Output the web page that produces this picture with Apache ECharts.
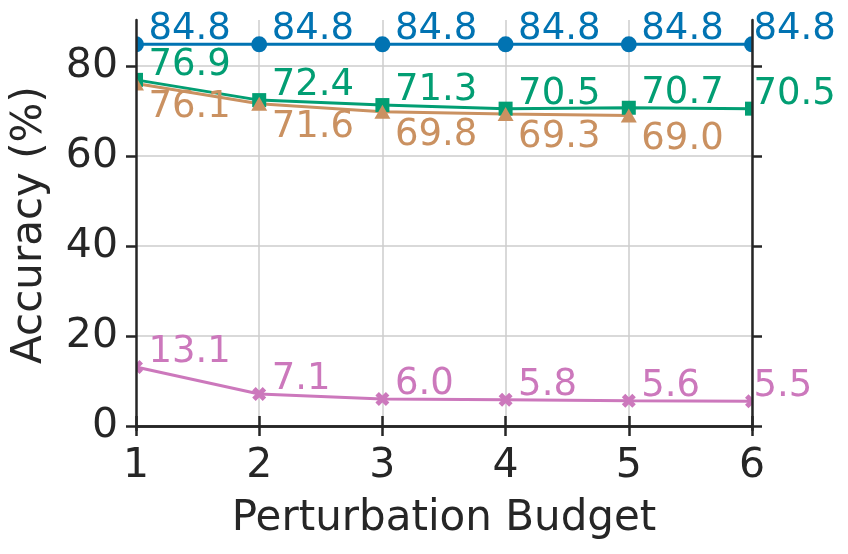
<!DOCTYPE html>
<html><head><meta charset="utf-8">
<script src="https://cdn.jsdelivr.net/npm/echarts@6/dist/echarts.min.js"></script>
<style>html,body{margin:0;padding:0;background:#fff}#c{width:848px;height:554px}</style>
</head><body><div id="c"></div>
<script>
// ---- data ----
const budgets = [1, 2, 3, 4, 5, 6];
const blueValues = [84.8, 84.8, 84.8, 84.8, 84.8, 84.8];
const greenValues = [76.9, 72.4, 71.3, 70.5, 70.7, 70.5];
const tanValues = [76.1, 71.6, 69.8, 69.3, 69.0];
const pinkValues = [13.1, 7.1, 6.0, 5.8, 5.6, 5.5];
const yTicks = [0, 20, 40, 60, 80];
const xTicks = [1, 2, 3, 4, 5, 6];
const yMin = -0.9, yMax = 90.2;
const xName = 'Perturbation Budget';
const yName = 'Accuracy (%)';

// ---- style ----
const FONT = 'DejaVu Sans';
const INK = '#262626';
const GRID = '#cccccc';
const xPath = 'path://M0.25,0L0.5,0.25L0.75,0L1,0.25L0.75,0.5L1,0.75L0.75,1L0.5,0.75L0.25,1L0,0.75L0.25,0.5L0,0.25Z';

const defs = [
  { values: blueValues,  color: '#0173b2', symbol: 'circle',   size: 16,       below: false },
  { values: greenValues, color: '#029e73', symbol: 'rect',     size: 14,       below: false },
  { values: tanValues,   color: '#ca9161', symbol: 'triangle', size: [16, 14], below: true },
  { values: pinkValues,  color: '#cc78bc', symbol: xPath,      size: 14,       below: false }
];

const chart = echarts.init(document.getElementById('c'), null, { renderer: 'canvas' });

const series = [];
defs.forEach(d => {
  series.push({
    type: 'line', xAxisIndex: 0, yAxisIndex: 0, z: 2, silent: true,
    data: d.values.map((v, i) => [budgets[i], v]),
    symbol: d.symbol, symbolSize: d.size, showAllSymbol: true,
    lineStyle: { color: d.color, width: 3 },
    itemStyle: { color: d.color },
    label: { show: false },
    clip: false
  });
});
defs.forEach(d => {
  series.push({
    type: 'line', xAxisIndex: 0, yAxisIndex: 0, z: 6, silent: true,
    data: d.values.map((v, i) => ({
      value: [budgets[i], v],
      label: { offset: [budgets[i] === budgets[budgets.length - 1] ? 1 : 12, d.below ? 23.5 : -14.5] }
    })),
    symbol: 'circle', symbolSize: 1, showAllSymbol: true,
    lineStyle: { width: 0, opacity: 0 },
    itemStyle: { color: 'rgba(0,0,0,0)' },
    label: {
      show: true, position: 'right', distance: 0,
      color: d.color, fontFamily: FONT, fontSize: 37,
      formatter: p => p.value[1].toFixed(1)
    },
    clip: false
  });
});

const hidden = { show: false };
const spine = { show: true, lineStyle: { color: INK, width: 2.5 } };
const tick = { show: true, inside: false, length: 10, lineStyle: { color: INK, width: 2.5 } };

const xBase = { type: 'value', min: 1, max: 6, interval: 1 };
const yBase = { type: 'value', min: yMin, max: yMax };

const option = {
  animation: false,
  backgroundColor: '#fff',
  grid: { left: 136, right: 96, top: 20, bottom: 124, containLabel: false },
  xAxis: [
    Object.assign({}, xBase, { position: 'bottom', z: 0,
      axisLine: hidden, axisTick: hidden, axisLabel: hidden,
      splitLine: { show: true, lineStyle: { color: GRID, width: 1.5 } } }),
    Object.assign({}, xBase, { position: 'bottom', z: 10,
      axisLine: spine, axisTick: tick,
      axisLabel: { show: true, margin: 16, color: INK, fontFamily: FONT, fontSize: 41,
        formatter: v => String(v) },
      splitLine: hidden,
      name: xName, nameLocation: 'middle', nameGap: 68,
      nameTextStyle: { color: INK, fontFamily: FONT, fontSize: 42 } }),
    Object.assign({}, xBase, { position: 'top', z: 10,
      axisLine: spine, axisTick: tick, axisLabel: hidden, splitLine: hidden })
  ],
  yAxis: [
    Object.assign({}, yBase, { position: 'left', z: 0,
      axisLine: hidden,
      axisTick: { show: false, customValues: yTicks },
      axisLabel: { show: false, customValues: yTicks },
      splitLine: { show: true, lineStyle: { color: GRID, width: 1.5 } } }),
    Object.assign({}, yBase, { position: 'left', z: 10,
      axisLine: spine,
      axisTick: Object.assign({}, tick, { customValues: yTicks }),
      axisLabel: { show: true, margin: 18, color: INK, fontFamily: FONT, fontSize: 41,
        customValues: yTicks, formatter: v => String(v) },
      splitLine: hidden,
      name: yName, nameLocation: 'middle', nameGap: 85,
      nameTextStyle: { color: INK, fontFamily: FONT, fontSize: 42 } }),
    Object.assign({}, yBase, { position: 'right', z: 10,
      axisLine: spine,
      axisTick: Object.assign({}, tick, { customValues: yTicks }),
      axisLabel: { show: false, customValues: yTicks },
      splitLine: hidden })
  ],
  series: series
};
chart.setOption(option);

// white masks to clip markers at the plot edges (like matplotlib clipping)
const px1 = chart.convertToPixel({ xAxisIndex: 0 }, xTicks[0]);
const px6 = chart.convertToPixel({ xAxisIndex: 0 }, xTicks[xTicks.length - 1]);
const pyT = chart.convertToPixel({ yAxisIndex: 0 }, yMax);
const pyB = chart.convertToPixel({ yAxisIndex: 0 }, yMin);
chart.setOption({
  graphic: [
    { type: 'rect', z: 5, silent: true, shape: { x: px1 - 20, y: pyT, width: 20, height: pyB - pyT }, style: { fill: '#fff' } },
    { type: 'rect', z: 5, silent: true, shape: { x: px6, y: pyT, width: 12, height: pyB - pyT }, style: { fill: '#fff' } }
  ]
});
</script>
</body></html>
